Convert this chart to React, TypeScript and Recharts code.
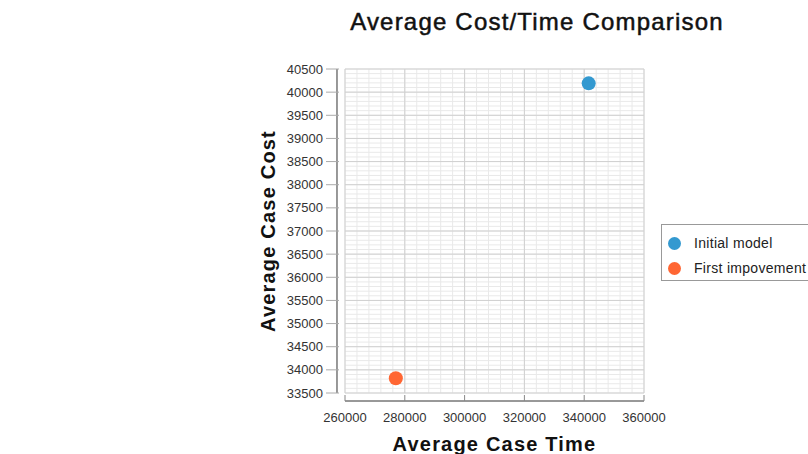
import React from "react";
import {
  ScatterChart, Scatter, XAxis, YAxis, CartesianGrid, ReferenceLine,
} from "recharts";

// data
const initialModel = [{ time: 341500, cost: 40190 }];
const firstImprovement = [{ time: 277000, cost: 33820 }];

const seriesNames = ["Initial model", "First impovement"];
const seriesColors = ["#3399D0", "#FF6633"];

const xTicks = [260000, 280000, 300000, 320000, 340000, 360000];
const yTicks = [
  33500, 34000, 34500, 35000, 35500, 36000, 36500, 37000,
  37500, 38000, 38500, 39000, 39500, 40000, 40500,
];

// minor grid steps (5 per major step)
const xMinor = Array.from({ length: 26 }, (_, i) => 260000 + i * 4000);
const yMinor = Array.from({ length: 71 }, (_, i) => 33500 + i * 100);

const FONT = '"Liberation Sans", Arial, sans-serif';

const YTick = ({ x, y, payload }: any) => (
  <g>
    <line x1={x + 3} x2={x + 16} y1={y} y2={y} stroke="#aaa" />
    <text x={x} y={y} dy={4.5} textAnchor="end" fontSize={13} fill="#333" fontFamily={FONT}>
      {payload.value}
    </text>
  </g>
);

const XTick = ({ x, y, payload }: any) => (
  <g>
    <line x1={x} x2={x} y1={y + 2} y2={y + 8} stroke="#888" />
    <text x={x} y={y + 29} textAnchor="middle" fontSize={13} fill="#333" fontFamily={FONT}>
      {payload.value}
    </text>
  </g>
);

const Dot = (color: string) => (p: any) => <circle cx={p.cx} cy={p.cy} r={7} fill={color} />;

export default function App() {
  return (
    <div style={{ position: "absolute", left: 0, top: 0, width: 808, height: 454, background: "#fff", fontFamily: FONT }}>
      <div
        style={{
          position: "absolute", left: 237, width: 600, top: 8, textAlign: "center",
          fontSize: 24, letterSpacing: 1.2, color: "#111", lineHeight: "28px",
          WebkitTextStroke: "0.5px #111",
        }}
      >
        Average Cost/Time Comparison
      </div>
      <ScatterChart width={808} height={454} margin={{ top: 69, right: 164, left: 255, bottom: 0 }}>
        <CartesianGrid verticalValues={xMinor} horizontalValues={yMinor} stroke="#e9e9e9" />
        <CartesianGrid verticalValues={xTicks} horizontalValues={yTicks} stroke="#d0d0d0" />
        <XAxis
          type="number" dataKey="time" domain={[260000, 360000]} ticks={xTicks}
          height={61} tickSize={0} tickMargin={0} axisLine={false} tickLine={false}
          tick={<XTick />} interval={0}
          label={{
            value: "Average Case Time", position: "insideBottom", offset: 3,
            style: { fontSize: 20, fontWeight: "bold", letterSpacing: 1.2, fill: "#111", fontFamily: FONT },
          }}
        />
        <YAxis
          type="number" dataKey="cost" domain={[33500, 40500]} ticks={yTicks}
          width={90} tickSize={0} tickMargin={22} axisLine={false} tickLine={false}
          tick={<YTick />} interval={0}
          label={{
            content: ({ viewBox }: any) => {
              const cx = viewBox.x + 20;
              const cy = viewBox.y + viewBox.height / 2;
              return (
                <text
                  x={cx} y={cy} textAnchor="middle" transform={`rotate(-90, ${cx}, ${cy})`}
                  fontSize={20} fontWeight="bold" letterSpacing={1.2} fill="#111" fontFamily={FONT}
                >
                  Average Case Cost
                </text>
              );
            },
          }}
        />
        <ReferenceLine
          ifOverflow="visible" stroke="#333"
          segment={[{ x: 257324, y: 33500 }, { x: 257324, y: 40500 }]}
        />
        <ReferenceLine
          ifOverflow="visible" stroke="#333"
          segment={[{ x: 260000, y: 33327 }, { x: 360000, y: 33327 }]}
        />
        <Scatter name={seriesNames[0]} data={initialModel} fill={seriesColors[0]} shape={Dot(seriesColors[0])} isAnimationActive={false} />
        <Scatter name={seriesNames[1]} data={firstImprovement} fill={seriesColors[1]} shape={Dot(seriesColors[1])} isAnimationActive={false} />
      </ScatterChart>
      <div
        style={{
          position: "absolute", left: 661, top: 224, width: 160, height: 57,
          border: "1px solid #999", background: "#fff", boxSizing: "border-box",
        }}
      >
        {seriesNames.map((name, i) => (
          <div
            key={name}
            style={{
              position: "absolute", left: 6, top: 9 + i * 25, height: 18, display: "flex",
              alignItems: "center", fontSize: 14, letterSpacing: 0.3, color: "#222", whiteSpace: "nowrap",
            }}
          >
            <span style={{ width: 13, height: 13, borderRadius: "50%", background: seriesColors[i], display: "inline-block" }} />
            <span style={{ marginLeft: 13 }}>{name}</span>
          </div>
        ))}
      </div>
    </div>
  );
}
